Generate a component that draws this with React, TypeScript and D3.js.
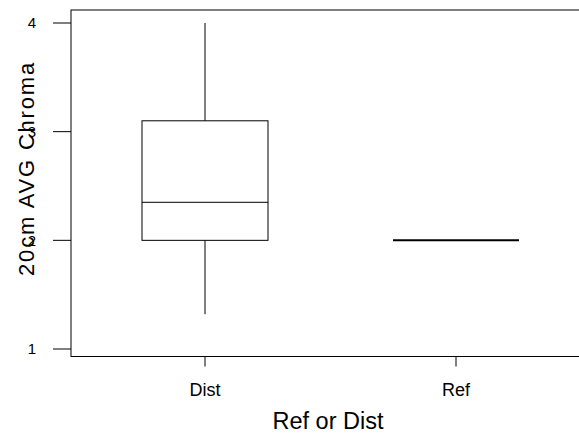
import React from "react";
import * as d3 from "d3";

// Groups and their five-number summaries
const categories = ["Dist", "Ref"];
const whiskerLow = [1.32, 2];
const q1 = [2, 2];
const median = [2.35, 2];
const q3 = [3.1, 2];
const whiskerHigh = [4, 2];
const yTicks = [1, 2, 3, 4];

const W = 579;
const H = 433;
const frame = { left: 71, top: 10, right: 582, bottom: 356.5 };
const FONT = "'Liberation Sans', Arial, sans-serif";

export default function App() {
  const y = d3.scaleLinear().domain([1, 4]).range([349, 23]);
  const x = d3.scaleLinear().domain([0, 1]).range([205, 456]);
  const halfBox = 63;

  return (
    <svg
      width={W}
      height={H}
      style={{ position: "absolute", left: 0, top: 0, background: "#fff" }}
    >
      <rect
        x={frame.left}
        y={frame.top}
        width={frame.right - frame.left}
        height={frame.bottom - frame.top}
        fill="none"
        stroke="#000"
        strokeWidth={1}
      />
      {yTicks.map((t) => (
        <g key={t}>
          <line x1={53} x2={frame.left} y1={y(t)} y2={y(t)} stroke="#000" />
          <text
            x={32}
            y={y(t)}
            dy="0.35em"
            textAnchor="middle"
            fontSize={15}
            fontFamily={FONT}
            fill="#000"
          >
            {t}
          </text>
        </g>
      ))}
      {categories.map((c, i) => {
        const cx = x(i);
        return (
          <g key={c}>
            <line x1={cx} x2={cx} y1={frame.bottom} y2={366.5} stroke="#000" />
            <text
              x={cx}
              y={396}
              textAnchor="middle"
              fontSize={18}
              fontFamily={FONT}
              fill="#000"
            >
              {c}
            </text>
            {/* whiskers */}
            <line x1={cx} x2={cx} y1={y(whiskerHigh[i])} y2={y(q3[i])} stroke="#000" />
            <line x1={cx} x2={cx} y1={y(q1[i])} y2={y(whiskerLow[i])} stroke="#000" />
            {/* box */}
            <rect
              x={cx - halfBox}
              y={y(q3[i])}
              width={halfBox * 2}
              height={y(q1[i]) - y(q3[i])}
              fill="none"
              stroke="#000"
            />
            <line
              x1={cx - halfBox}
              x2={cx + halfBox}
              y1={y(median[i])}
              y2={y(median[i])}
              stroke="#000"
              strokeWidth={q3[i] === q1[i] ? 2 : 1}
            />
          </g>
        );
      })}
      <text
        x={328}
        y={429}
        textAnchor="middle"
        fontSize={23.5}
        fontFamily={FONT}
        fill="#000"
      >
        Ref or Dist
      </text>
      <text
        transform={`translate(34,168.5) rotate(-90)`}
        textAnchor="middle"
        fontSize={22}
        letterSpacing={1.8}
        fontFamily={FONT}
        fill="#000"
      >
        20cm AVG Chroma
      </text>
    </svg>
  );
}
